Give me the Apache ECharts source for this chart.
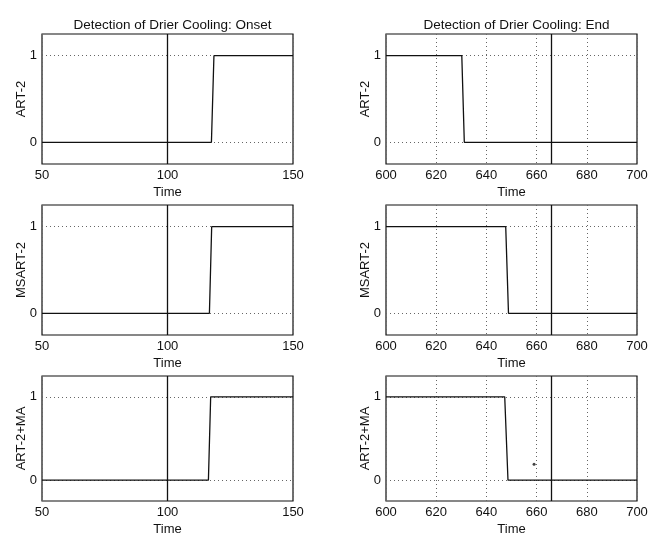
<!DOCTYPE html>
<html>
<head>
<meta charset="utf-8">
<script src="https://cdn.jsdelivr.net/npm/echarts@6/dist/echarts.min.js"></script>
<style>html,body{margin:0;padding:0;background:#fff}#c{width:652px;height:537px}</style>
</head>
<body>
<div id="c"></div>
<script>
// ---- data ----
const panelTitles = ['Detection of Drier Cooling: Onset', 'Detection of Drier Cooling: End'];
const methodNames = ['ART-2', 'MSART-2', 'ART-2+MA'];
const xAxisName = 'Time';
const onsetTicks = [50, 100, 150];
const endTicks = [600, 620, 640, 660, 680, 700];
const yTicks = [0, 1];
const onsetTime = 100;
const endTime = 666;

const onsetArt2X = [50, 117.5, 118.5, 150];
const onsetArt2Y = [0, 0, 1, 1];
const onsetMsart2X = [50, 116.7, 117.6, 150];
const onsetMsart2Y = [0, 0, 1, 1];
const onsetArtMaX = [50, 116.3, 117.2, 150];
const onsetArtMaY = [0, 0, 1, 1];

const endArt2X = [600, 630.2, 631.2, 700];
const endArt2Y = [1, 1, 0, 0];
const endMsart2X = [600, 647.7, 648.8, 700];
const endMsart2Y = [1, 1, 0, 0];
const endArtMaX = [600, 647.3, 648.6, 700];
const endArtMaY = [1, 1, 0, 0];
const endArtMaDotX = [659];
const endArtMaDotY = [0.19];

// ---- build ----
const zip = (xs, ys) => xs.map((x, i) => [x, ys[i]]);
const FONT = "'Liberation Sans', Arial, sans-serif";
const lefts = [42, 386];
const tops = [34, 205, 376];
const W = 251, H = 130;

const panels = [
  {col: 0, row: 0, line: zip(onsetArt2X, onsetArt2Y), ev: onsetTime},
  {col: 0, row: 1, line: zip(onsetMsart2X, onsetMsart2Y), ev: onsetTime},
  {col: 0, row: 2, line: zip(onsetArtMaX, onsetArtMaY), ev: onsetTime},
  {col: 1, row: 0, line: zip(endArt2X, endArt2Y), ev: endTime},
  {col: 1, row: 1, line: zip(endMsart2X, endMsart2Y), ev: endTime},
  {col: 1, row: 2, line: zip(endArtMaX, endArtMaY), ev: endTime, dots: zip(endArtMaDotX, endArtMaDotY)}
];

const grid = [], xAxis = [], yAxis = [], series = [];
const gridLine = {show: true, lineStyle: {color: '#666', type: [1, 3], width: 1}};
panels.forEach((p, i) => {
  grid.push({left: lefts[p.col], top: tops[p.row], width: W, height: H, show: true,
    borderColor: '#111', borderWidth: 1.2, backgroundColor: 'transparent'});
  const ticks = p.col === 0 ? onsetTicks : endTicks;
  xAxis.push({type: 'value', gridIndex: i, min: ticks[0], max: ticks[ticks.length - 1],
    interval: ticks[1] - ticks[0],
    name: xAxisName, nameLocation: 'middle', nameGap: 22, nameMoveOverlap: false,
    nameTextStyle: {color: '#111', fontSize: 13, fontFamily: FONT},
    axisLine: {show: false}, axisTick: {show: false},
    axisLabel: {color: '#111', fontSize: 13, fontFamily: FONT, margin: 5, showMinLabel: true, showMaxLabel: true},
    splitLine: gridLine});
  yAxis.push({type: 'value', gridIndex: i, min: -0.25, max: 1.25,
    name: methodNames[p.row], nameLocation: 'middle', nameGap: 14, nameMoveOverlap: false,
    nameTextStyle: {color: '#111', fontSize: 13, fontFamily: FONT},
    axisLine: {show: false},
    axisTick: {show: false, customValues: yTicks},
    axisLabel: {color: '#111', fontSize: 13, fontFamily: FONT, margin: 5, customValues: yTicks},
    splitLine: gridLine});
  series.push({type: 'line', xAxisIndex: i, yAxisIndex: i, data: p.line, symbol: 'none',
    lineStyle: {color: '#111', width: 1.3}, animation: false, silent: true,
    markLine: {symbol: 'none', silent: true, label: {show: false},
      lineStyle: {color: '#111', width: 1.3, type: 'solid'}, data: [{xAxis: p.ev}]}});
  if (p.dots) {
    series.push({type: 'scatter', xAxisIndex: i, yAxisIndex: i, data: p.dots, symbolSize: 3,
      itemStyle: {color: '#111'}, animation: false, silent: true});
  }
});

const title = panelTitles.map((t, c) => ({
  text: t, left: lefts[c] + W / 2, top: 13, textAlign: 'center',
  textStyle: {fontSize: 13.5, fontWeight: 'normal', color: '#111', fontFamily: FONT}
}));

const chart = echarts.init(document.getElementById('c'), null, {renderer: 'canvas'});
chart.setOption({backgroundColor: '#fff', animation: false, title, grid, xAxis, yAxis, series});
</script>
</body>
</html>
